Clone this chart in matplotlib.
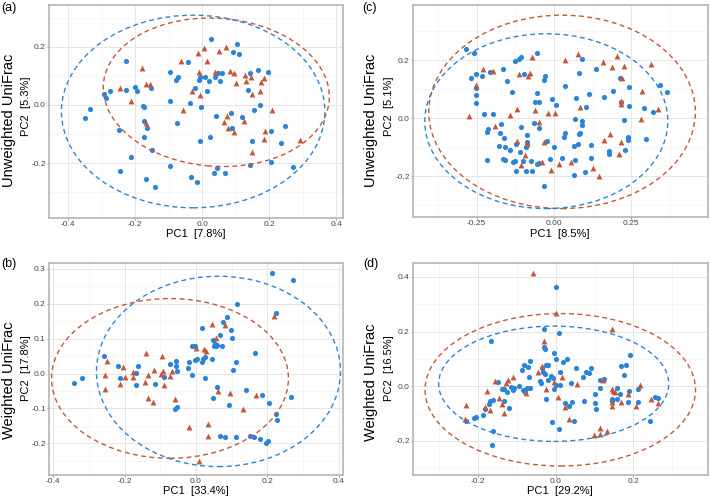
import numpy as np
import matplotlib
matplotlib.use("Agg")
import matplotlib.pyplot as plt
from matplotlib.patches import Ellipse

plt.rcParams['font.family'] = ['Liberation Sans', 'DejaVu Sans']

BLUE = '#2c84d6'
RED = '#c2583c'

# ---- panel (a): unweighted, PC1 7.8% / PC2 5.3%
a_blue = np.array([
    (-0.350, -0.046), (-0.335, -0.015), (-0.294, 0.037), (-0.286, 0.022), (-0.276, 0.046),
    (-0.226, 0.149), (-0.228, 0.051), (-0.201, 0.061), (-0.194, 0.048), (-0.248, -0.088),
    (-0.246, -0.226), (-0.211, -0.181), (-0.176, -0.003), (-0.174, -0.008), (-0.174, -0.054),
    (-0.174, -0.111), (-0.169, -0.255), (-0.164, -0.078), (-0.154, 0.059), (-0.149, -0.154),
    (-0.142, -0.283), (-0.097, 0.114), (-0.095, 0.014), (-0.097, -0.209), (-0.079, 0.086),
    (-0.075, -0.061), (-0.072, 0.097), (-0.042, 0.147), (-0.035, 0.006), (-0.032, -0.249),
    (-0.022, 0.057), (-0.017, -0.265), (-0.010, 0.086), (-0.007, 0.097), (-0.005, -0.009),
    (-0.007, -0.126), (0.007, 0.097), (0.014, 0.048), (0.020, 0.082), (0.027, 0.226),
    (0.024, -0.112), (0.035, -0.234), (0.037, 0.094), (0.042, -0.040), (0.045, -0.217),
    (0.047, 0.111), (0.052, 0.082), (0.060, 0.111), (0.067, -0.234), (0.087, -0.029),
    (0.090, -0.080), (0.092, 0.183), (0.104, 0.209), (0.110, 0.174), (0.120, -0.042),
    (0.137, 0.051), (0.142, 0.111), (0.144, -0.206), (0.150, -0.126), (0.154, -0.017),
    (0.166, 0.120), (0.171, -0.001), (0.196, 0.114), (0.206, -0.089), (0.206, -0.198),
    (0.236, -0.131), (0.246, -0.072), (0.271, -0.215)])
a_red = np.array([
    (-0.246, 0.057), (-0.211, 0.014), (-0.181, 0.128), (-0.169, 0.072), (-0.169, -0.063),
    (-0.155, 0.072), (-0.062, 0.149), (-0.057, -0.019), (-0.029, 0.046), (-0.012, 0.177),
    (-0.010, 0.112), (-0.007, 0.034), (0.004, 0.194), (0.014, 0.152), (0.037, 0.114),
    (0.049, 0.185), (0.072, 0.200), (0.082, 0.117), (0.094, 0.110), (0.074, -0.038),
    (0.064, -0.059), (0.077, -0.079), (0.094, -0.094), (0.124, -0.057), (0.100, 0.074),
    (0.127, 0.101), (0.132, 0.082), (0.147, 0.095), (0.148, -0.163), (0.150, 0.037),
    (0.171, 0.049), (0.176, 0.077), (0.183, 0.091), (0.186, -0.089), (0.184, -0.118),
    (0.209, -0.019), (0.291, -0.120)])
# ellipses: center x, center y, semi-axis x, semi-axis y, angle
a_ell_blue = (-0.027, -0.023, 0.393, 0.331, 0)
a_ell_red = (0.042, 0.043, 0.338, 0.254, -6)

# ---- panel (c): unweighted, PC1 8.5% / PC2 5.1%
c_blue = np.array([
    (-0.284, 0.237), (-0.260, 0.225), (-0.125, 0.197), (-0.113, 0.203), (-0.106, 0.211),
    (-0.055, 0.223), (-0.268, 0.137), (-0.252, 0.151), (-0.233, 0.145), (-0.206, 0.160),
    (-0.165, 0.168), (-0.152, 0.128), (-0.098, 0.154), (-0.136, 0.089), (-0.252, 0.105),
    (-0.252, 0.079), (-0.252, 0.051), (-0.228, 0.014), (-0.198, 0.015), (-0.062, 0.056),
    (-0.050, 0.056), (-0.054, 0.087), (-0.032, 0.132), (-0.028, 0.144), (-0.005, 0.066),
    (0.008, 0.045), (-0.065, -0.017), (-0.050, -0.032), (-0.172, -0.020), (-0.212, -0.036),
    (-0.217, -0.048), (-0.176, -0.051), (-0.161, -0.068), (-0.177, -0.094), (-0.159, -0.100),
    (-0.143, -0.108), (-0.107, -0.029), (-0.087, -0.057), (-0.087, -0.082), (-0.086, -0.093),
    (-0.092, -0.099), (-0.111, -0.116), (-0.122, -0.087), (-0.217, -0.143), (-0.165, -0.139),
    (-0.160, -0.143), (-0.127, -0.146), (-0.131, -0.151), (-0.100, -0.147), (-0.073, -0.147),
    (-0.054, -0.157), (-0.049, -0.154), (-0.122, -0.183), (-0.090, -0.180), (-0.071, -0.182),
    (-0.032, -0.234), (-0.024, -0.080), (0.000, -0.099), (-0.014, -0.139),
    (0.091, 0.203), (0.082, 0.156), (0.135, 0.168), (0.214, 0.140), (0.035, 0.110),
    (0.241, 0.109), (0.070, 0.070), (0.113, 0.082), (0.163, 0.072), (0.191, 0.094),
    (0.218, 0.057), (0.243, 0.041), (0.104, 0.038), (0.292, 0.036), (0.321, 0.020),
    (0.343, 0.113), (0.365, 0.090), (0.069, -0.001), (0.092, -0.009), (0.091, -0.023),
    (0.225, -0.005), (0.035, -0.051), (0.031, -0.064), (0.080, -0.054), (0.085, -0.052),
    (0.079, -0.090), (0.065, -0.095), (0.120, -0.093), (0.177, -0.114), (0.177, -0.123),
    (0.231, -0.109), (0.238, -0.066), (0.240, -0.076), (0.299, -0.070), (0.027, -0.137),
    (0.069, -0.143), (0.121, -0.137), (0.065, -0.195), (0.100, -0.185)])
c_red = np.array([
    (-0.230, 0.168), (-0.197, 0.163), (-0.252, 0.114), (-0.114, 0.152), (-0.084, 0.144),
    (-0.077, 0.157), (-0.072, 0.210), (-0.275, 0.009), (-0.192, -0.026), (-0.141, 0.011),
    (-0.119, 0.032), (-0.063, 0.030), (-0.049, -0.013), (-0.021, 0.018), (0.004, 0.018),
    (-0.120, -0.078), (-0.087, -0.084), (-0.033, -0.082), (-0.094, -0.128), (-0.108, -0.160),
    (-0.040, -0.151), (-0.009, -0.177), (0.015, -0.156),
    (0.037, 0.202), (0.078, 0.220), (0.160, 0.194), (0.189, 0.177), (0.203, 0.215),
    (0.225, 0.179), (0.219, 0.139), (0.313, 0.186), (0.283, 0.093), (0.216, 0.059),
    (0.218, 0.049), (0.085, 0.039), (0.281, -0.001), (0.335, 0.031), (0.181, -0.053),
    (0.162, -0.076), (0.216, -0.082), (0.211, -0.123), (0.054, -0.151), (0.127, -0.170),
    (0.147, -0.199)])
c_ell_blue = (-0.025, -0.010, 0.393, 0.301, 0)
c_ell_red = (0.026, 0.022, 0.431, 0.333, 0)

# ---- panel (b): weighted, PC1 33.4% / PC2 17.8%
b_blue = np.array([
    (-0.342, -0.028), (-0.319, -0.014), (-0.257, 0.049), (-0.219, 0.021), (-0.213, -0.014),
    (-0.169, -0.032), (-0.167, 0.002), (-0.163, 0.022), (-0.116, -0.031), (-0.090, -0.010),
    (-0.074, 0.026), (-0.057, 0.035), (-0.057, 0.022), (-0.054, 0.008), (-0.022, 0.016),
    (-0.021, 0.034), (-0.012, -0.005), (-0.010, 0.078), (-0.004, 0.040), (0.002, 0.041),
    (-0.060, -0.101), (-0.052, -0.095), (-0.004, 0.078),
    (0.212, 0.287), (0.272, 0.267), (0.115, 0.200), (0.225, 0.173), (0.017, 0.131),
    (0.088, 0.162), (0.077, 0.148), (0.097, 0.125), (0.067, 0.110), (0.101, 0.102),
    (0.072, 0.080), (0.049, 0.095), (0.052, 0.086), (0.051, 0.080), (0.056, 0.080),
    (0.058, 0.083), (0.025, 0.048), (0.019, 0.043), (0.017, 0.032), (0.044, 0.043),
    (0.164, 0.059), (0.112, 0.034), (0.104, 0.009), (0.024, -0.014), (0.059, -0.040),
    (0.047, -0.070), (0.093, -0.091), (0.140, -0.048), (0.186, -0.062), (0.205, -0.084),
    (0.266, -0.066), (0.225, -0.115), (0.227, -0.133), (0.067, -0.178), (0.081, -0.182),
    (0.113, -0.183), (0.152, -0.179), (0.162, -0.182), (0.178, -0.187), (0.196, -0.199),
    (0.201, -0.194)])
b_red = np.array([
    (-0.250, 0.035), (-0.255, -0.005), (-0.255, -0.045), (-0.205, 0.019), (-0.199, -0.011),
    (-0.213, -0.030), (-0.177, 0.005), (-0.176, -0.011), (-0.141, 0.059), (-0.135, -0.005),
    (-0.142, -0.024), (-0.134, -0.070), (-0.121, -0.081), (-0.118, 0.009), (-0.095, 0.049),
    (-0.093, 0.008), (-0.097, -0.001), (-0.090, -0.032), (-0.074, -0.007), (-0.068, 0.007),
    (-0.059, -0.072), (-0.020, -0.154), (0.000, 0.072),
    (0.046, 0.143), (0.081, 0.139), (0.055, 0.103), (0.023, 0.069), (0.028, 0.066),
    (0.063, -0.049), (0.094, -0.056), (0.169, -0.062), (0.133, -0.103), (0.034, -0.145),
    (0.035, -0.178), (0.219, 0.165), (0.008, -0.251)])
b_ell_blue = (0.063, 0.006, 0.342, 0.273, 0)
b_ell_red = (-0.073, -0.014, 0.332, 0.229, 0)

# ---- panel (d): weighted, PC1 29.2% / PC2 16.5%
d_blue = np.array([
    (0.002, 0.363), (0.009, 0.196), (-0.030, 0.208), (-0.167, 0.167), (-0.031, 0.144),
    (-0.028, 0.136), (-0.005, 0.123), (0.000, 0.098), (-0.067, 0.093), (-0.081, 0.079),
    (-0.070, 0.070), (-0.087, 0.059), (-0.068, 0.034), (-0.034, 0.067), (-0.026, 0.077),
    (-0.020, 0.077), (-0.033, 0.053), (-0.028, 0.044), (-0.013, 0.037), (-0.007, 0.031),
    (-0.020, 0.022), (-0.041, 0.020), (-0.037, 0.012), (0.000, 0.004), (-0.003, -0.009),
    (0.010, 0.004), (0.010, 0.053), (-0.149, 0.016), (-0.134, -0.009), (-0.138, -0.011),
    (-0.125, -0.021), (-0.114, -0.002), (-0.110, -0.015), (-0.106, -0.006), (-0.095, 0.001),
    (-0.084, -0.015), (-0.080, -0.021), (-0.074, -0.006), (-0.067, -0.006), (-0.169, -0.055),
    (-0.162, -0.051), (-0.172, -0.064), (-0.181, -0.082), (-0.134, -0.054), (-0.119, -0.079),
    (-0.188, -0.104), (-0.205, -0.112), (-0.209, -0.115), (-0.231, -0.128), (-0.162, -0.165),
    (-0.163, -0.216), (-0.024, -0.045), (-0.009, -0.131), (0.009, -0.158),
    (0.020, 0.087), (0.030, 0.098), (0.052, 0.065), (0.039, 0.012), (0.071, 0.035),
    (0.079, 0.053), (0.085, 0.049), (0.090, 0.065), (0.115, 0.021), (0.124, 0.026),
    (0.101, -0.028), (0.114, -0.005), (0.157, -0.005), (0.157, -0.048), (0.165, -0.028),
    (0.169, 0.075), (0.181, 0.077), (0.175, 0.040), (0.191, 0.116), (0.187, -0.057),
    (0.189, -0.017), (0.211, -0.012), (0.211, -0.057), (0.144, -0.048), (0.144, -0.055),
    (0.073, -0.055), (0.102, -0.060), (0.105, -0.084), (0.025, -0.060), (0.034, -0.072),
    (0.042, -0.057), (0.046, -0.127), (0.255, -0.040), (0.264, -0.042), (0.243, -0.128)])
d_red = np.array([
    (-0.057, 0.415), (0.000, 0.269), (-0.030, 0.166), (-0.046, 0.053), (-0.034, 0.075),
    (-0.157, 0.020), (-0.123, 0.024), (-0.110, 0.034), (-0.127, 0.010), (-0.177, -0.018),
    (-0.231, -0.070), (-0.233, -0.119), (-0.182, -0.076), (-0.168, -0.088), (-0.146, -0.042),
    (-0.138, -0.066), (-0.134, -0.097), (-0.076, -0.024), (-0.026, -0.012), (-0.003, 0.016),
    (0.006, -0.039), (0.144, 0.209), (0.017, 0.033), (0.054, 0.009), (0.122, 0.024),
    (0.144, -0.011), (0.148, -0.017), (0.154, -0.021), (0.144, -0.057), (0.145, -0.072),
    (0.168, -0.057), (0.187, -0.029), (0.206, -0.072), (0.218, 0.004), (0.245, -0.048),
    (0.264, -0.062), (0.034, -0.120), (0.099, -0.180), (0.113, -0.153), (0.115, -0.176),
    (0.131, -0.163), (0.025, -0.075)])
d_ell_blue = (-0.005, 0.009, 0.296, 0.211, 0)
d_ell_red = (0.012, -0.013, 0.348, 0.279, 0)

W, H = 710, 499
fig = plt.figure(figsize=(W / 100, H / 100), dpi=100)


def box(l, t, r, b):
    return [l / W, 1 - b / H, (r - l) / W, (b - t) / H]


def draw_panel(rect, blue, red, ell_blue, ell_red, xlim, ylim, xmaj, xmin, ymaj, ymin):
    ax = fig.add_axes(rect)
    ax.set_xlim(*xlim)
    ax.set_ylim(*ylim)
    for v in xmin:
        ax.axvline(v, color='#f3f3f3', lw=0.5, zorder=0)
    for v in ymin:
        ax.axhline(v, color='#f3f3f3', lw=0.5, zorder=0)
    for v in xmaj:
        ax.axvline(v, color='#e6e6e6', lw=0.7, zorder=0)
    for v in ymaj:
        ax.axhline(v, color='#e6e6e6', lw=0.7, zorder=0)
    ax.scatter(blue[:, 0], blue[:, 1], s=14, color=BLUE, marker='o', linewidths=0, zorder=3)
    ax.scatter(red[:, 0], red[:, 1], s=18, color=RED, marker='^', linewidths=0, zorder=3)
    for e, c in ((ell_red, RED), (ell_blue, BLUE)):
        ax.add_patch(Ellipse((e[0], e[1]), 2 * e[2], 2 * e[3], angle=e[4], fill=False,
                             edgecolor=c, lw=1.0, linestyle=(0, (3.5, 2.5)), zorder=4))
    ax.set_xticks(xmaj)
    ax.set_yticks(ymaj)
    ax.tick_params(labelsize=6, labelcolor='#444444', color='#888888', length=1.5,
                   width=0.6, pad=0.8)
    for s in ax.spines.values():
        s.set_edgecolor('#b5b5b5')
        s.set_linewidth(1.2)
    return ax


def fmt(vals, dec):
    return [f'{v:.{dec}f}'.replace('-0.00', '0.00') for v in vals]


# (a)
ax = draw_panel(box(49, 5, 343, 218), a_blue, a_red, a_ell_blue, a_ell_red,
                (-0.457, 0.420), (-0.389, 0.343),
                [-0.4, -0.2, 0.0, 0.2, 0.4], [-0.3, -0.1, 0.1, 0.3],
                [-0.2, 0.0, 0.2], [-0.3, -0.1, 0.1, 0.3])
ax.set_xticklabels(fmt([-0.4, -0.2, 0.0, 0.2, 0.4], 1))
ax.set_yticklabels(fmt([-0.2, 0.0, 0.2], 1))

# (c)
ax = draw_panel(box(413, 5, 708, 217), c_blue, c_red, c_ell_blue, c_ell_red,
                (-0.456, 0.498), (-0.340, 0.390),
                [-0.25, 0.0, 0.25], [-0.375, -0.125, 0.125, 0.375],
                [-0.2, 0.0, 0.2], [-0.3, -0.1, 0.1, 0.3])
ax.set_xticklabels(fmt([-0.25, 0.0, 0.25], 2))
ax.set_yticklabels(fmt([-0.2, 0.0, 0.2], 1))

# (b)
ax = draw_panel(box(49, 263, 343, 475), b_blue, b_red, b_ell_blue, b_ell_red,
                (-0.412, 0.412), (-0.291, 0.317),
                [-0.4, -0.2, 0.0, 0.2, 0.4], [-0.3, -0.1, 0.1, 0.3],
                [-0.2, -0.1, 0.0, 0.1, 0.2, 0.3], [-0.25, -0.15, -0.05, 0.05, 0.15, 0.25])
ax.set_xticklabels(fmt([-0.4, -0.2, 0.0, 0.2, 0.4], 1))
ax.set_yticklabels(fmt([-0.2, -0.1, 0.0, 0.1, 0.2, 0.3], 1))

# (d)
ax = draw_panel(box(413, 263, 708, 475), d_blue, d_red, d_ell_blue, d_ell_red,
                (-0.367, 0.392), (-0.325, 0.451),
                [-0.2, 0.0, 0.2], [-0.3, -0.1, 0.1, 0.3],
                [-0.2, 0.0, 0.2, 0.4], [-0.3, -0.1, 0.1, 0.3])
ax.set_xticklabels(fmt([-0.2, 0.0, 0.2], 1))
ax.set_yticklabels(fmt([-0.2, 0.0, 0.2, 0.4], 1))


def ftext(x, y, s, **kw):
    fig.text(x / W, 1 - y / H, s, **kw)


# panel letters
for x, y, s in ((1, 8, '(a)'), (362, 8, '(c)'), (1, 264, '(b)'), (363, 264, '(d)')):
    ftext(x, y, s, fontsize=9, ha='left', va='center')

# outer method labels
ftext(9, 120, 'Unweighted UniFrac', fontsize=10.5, rotation=90, ha='center', va='center')
ftext(371, 120, 'Unweighted UniFrac', fontsize=10.5, rotation=90, ha='center', va='center')
ftext(9, 380, 'Weighted UniFrac', fontsize=10.5, rotation=90, ha='center', va='center')
ftext(371, 382, 'Weighted UniFrac', fontsize=10.5, rotation=90, ha='center', va='center')

# PC axis labels
ftext(26, 106, 'PC2  [5.3%]', fontsize=8, rotation=90, ha='center', va='center')
ftext(389, 106, 'PC2  [5.1%]', fontsize=8, rotation=90, ha='center', va='center')
ftext(26, 368, 'PC2  [17.8%]', fontsize=8, rotation=90, ha='center', va='center')
ftext(389, 368, 'PC2  [16.5%]', fontsize=8, rotation=90, ha='center', va='center')
ftext(196, 234, 'PC1  [7.8%]', fontsize=8, ha='center', va='center')
ftext(560, 234, 'PC1  [8.5%]', fontsize=8, ha='center', va='center')
ftext(196, 491, 'PC1  [33.4%]', fontsize=8, ha='center', va='center')
ftext(560, 491, 'PC1  [29.2%]', fontsize=8, ha='center', va='center')

fig.savefig('out.png', dpi=100)
